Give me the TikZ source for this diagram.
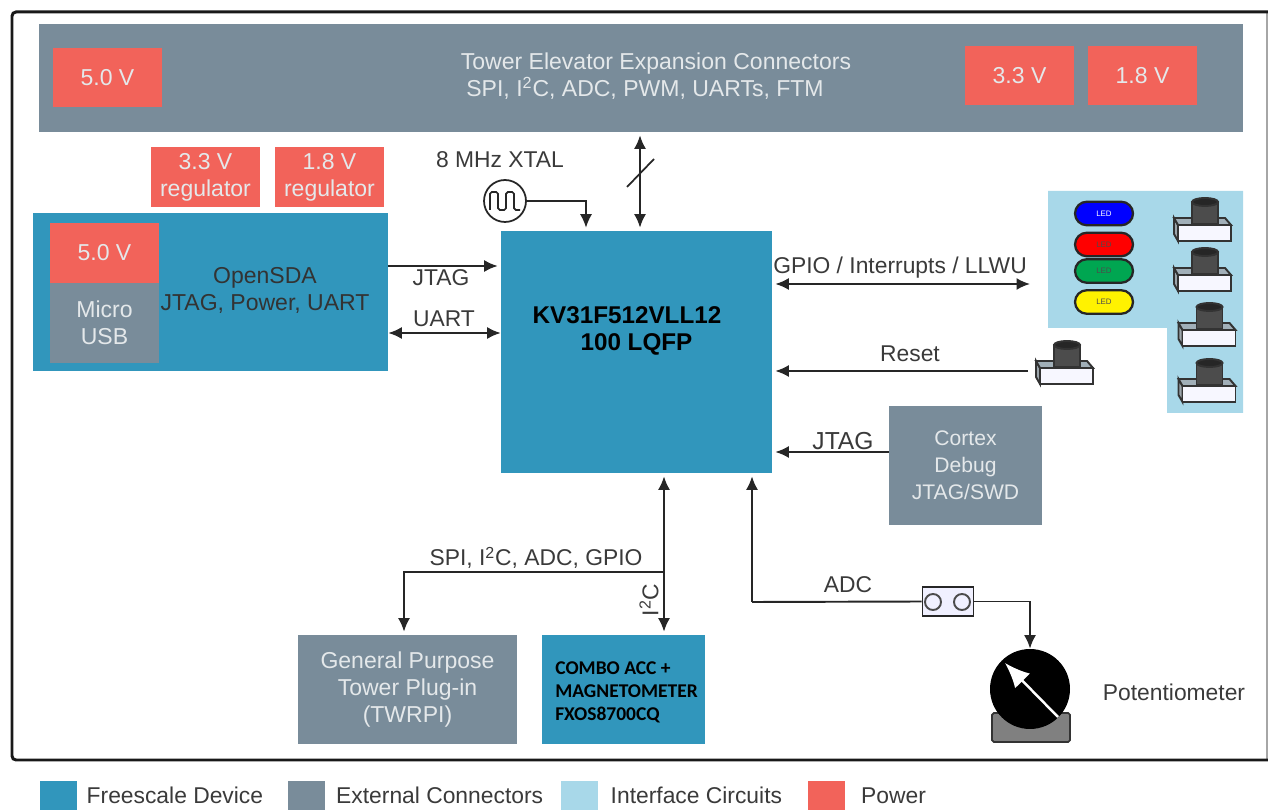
\documentclass[tikz,border=0pt]{standalone}
\usepackage{fontspec}
\setmainfont{Liberation Sans}
\newfontfamily\combofont{Carlito}
\usetikzlibrary{positioning,shapes.misc,arrows.meta}

\definecolor{devblue}{HTML}{3196BC}
\definecolor{extgrey}{HTML}{798C9A}
\definecolor{ifblue}{HTML}{A8D8E9}
\definecolor{powred}{HTML}{F2635A}
\definecolor{lbl}{HTML}{3A3A3A}
\definecolor{pale}{HTML}{E4E8EA}
\definecolor{ledgreen}{HTML}{00A651}

\tikzset{
    box/.style={inner sep=0pt,text=pale,align=center,font=\fontsize{13.1}{15.4}\selectfont},
    devbox/.style={box,fill=devblue},
    extbox/.style={box,fill=extgrey},
    powbox/.style={box,fill=powred,minimum width=2.18cm,minimum height=1.19cm},
    lab/.style={inner sep=0pt,text=lbl,align=center,font=\fontsize{13}{15}\selectfont},
    leg/.style={lab,font=\fontsize{13}{15}\selectfont},
    swatch/.style={inner sep=0pt,minimum width=0.74cm,minimum height=0.6cm},
    led/.style={rounded rectangle,draw=black!85,line width=1.3pt,inner sep=0pt,
        minimum width=1.16cm,minimum height=0.47cm,font=\fontsize{4.5}{5}\selectfont},
    conn/.style={line width=1.1pt,->,draw=black!85,shorten >=0.06cm},
    bothconn/.style={line width=1.1pt,<->,draw=black!85,shorten >=0.06cm,shorten <=0.06cm},
    pushbtn/.pic={
        \filldraw[draw=black!80,fill=black!25!extgrey!60,line width=1.1pt]
            (-31,-7) -- (-27,0) -- (-27,16) -- (-31,9) -- cycle;
        \filldraw[draw=black!80,fill=extgrey!70,line width=1.1pt]
            (-31,-7) -- (20,-7) -- (26,0) -- (-27,0) -- cycle;
        \filldraw[draw=black!80,fill=blue!3,line width=1.1pt] (-27,0) rectangle (26,16);
        \filldraw[draw=black!80,fill=black!70,line width=1.1pt]
            (-13,-23) -- (-13,-1) -- (13,-1) -- (13,-23) -- cycle;
        \filldraw[draw=black!80,fill=black!85,line width=1.1pt] (0,-23) ellipse (13 and 4);
    }
}

\begin{document}
\begin{tikzpicture}[>={Latex[length=0.27cm,width=0.24cm]},x=0.02cm,y=-0.02cm]
    \useasboundingbox (0,0) rectangle (1268,810);

    \draw[black!35,line width=0.6pt] (1267,12) -- (1267,760);
    \draw[line width=1.7pt,black!90,rounded corners=0.08cm] (1268,12) -- (12,12) -- (12,760) -- (1268,760);

    % tower connectors
    \node[extbox,minimum width=24.08cm,minimum height=2.16cm] (tower) at (641,78) {};
    \node[box] (towertxt) at (650,76) {\hspace{0.24cm}Tower Elevator Expansion Connectors\\SPI, I\textsuperscript{2}C, ADC, PWM, UARTs, FTM\hspace{0.2cm}\null};
    \node[powbox] (pfive) at (107.5,77.5) {5.0 V};
    \node[powbox] (pthree) at (1019.5,75.5) {3.3 V};
    \node[powbox] (pone) at (1142.5,75.5) {1.8 V};

    % regulators and opensda
    \node[powbox] (regthree) at (205.5,177) {3.3 V\\regulator};
    \node[powbox] (regone) at (329.5,177) {1.8 V\\regulator};
    \node[devbox,minimum width=7.1cm,minimum height=3.16cm] (sda) at (210.5,292) {};
    \node[powbox] (sdapow) at (104.5,253) {5.0 V};
    \node[extbox,minimum width=2.18cm,minimum height=1.6cm] (usb) at (104.5,323) {Micro\\USB};
    \node[box,text=black!80] (sdatxt) at (265,290) {OpenSDA\\JTAG, Power, UART};

    % mcu
    \node[devbox,minimum width=5.42cm,minimum height=4.84cm] (mcu) at (636.5,352) {};
    \node[box,text=black,font=\fontsize{13.8}{15.6}\selectfont\bfseries] (mcutxt) at (627,331) {KV31F512VLL12\\\hspace{0.38cm}100 LQFP};

    % interface circuits
    \fill[ifblue] (1048,191) -- (1243,191) -- (1243,413) -- (1167,413) -- (1167,328) -- (1048,328) -- cycle;
    \node[led,fill=blue,text=white] (ledb) at (1104,213.5) {LED};
    \node[led,fill=red,text=black!70] (ledr) at (1104,244.5) {LED};
    \node[led,fill=ledgreen,text=black!70] (ledg) at (1104,271) {LED};
    \node[led,fill=yellow,text=black!70] (ledy) at (1104,302) {LED};
    \pic at (1205,225) {pushbtn};
    \pic at (1205,275) {pushbtn};
    \pic at (1209.5,330) {pushbtn};
    \pic at (1209.5,386) {pushbtn};
    \coordinate (gpioend) at (1030,284);
    \coordinate (resetend) at (1028,371);
    \pic at (1067,368) {pushbtn};

    \node[extbox,font=\fontsize{12}{15.4}\selectfont,minimum width=3.06cm,minimum height=2.38cm] (debug) at (965.5,465.5) {Cortex\\Debug\\JTAG/SWD};
    \node[extbox,minimum width=4.38cm,minimum height=2.18cm] (twrpi) at (407.5,689.5) {General Purpose\\Tower Plug-in\\(TWRPI)};
    \node[devbox,minimum width=3.26cm,minimum height=2.18cm] (combo) at (623.5,689.5) {};
    \node[box,anchor=west,align=left,text=black,font=\combofont\fontsize{11.1}{13}\selectfont\bfseries] (combotxt) at (555,692) {COMBO ACC +\\MAGNETOMETER\\FXOS8700CQ};

    % left side links
    \coordinate (jtagin) at (sda.east |- 0,266);
    \coordinate (uartin) at (sda.east |- 0,333);
    \draw[conn] (jtagin) -- (mcu.west |- jtagin);
    \draw[line width=1.1pt,<->,draw=black!85] (uartin) -- (mcu.west |- uartin);
    \node[lab] (jtaglab) at (441,278) {JTAG};
    \node[lab] (uartlab) at (444,319) {UART};

    % crystal and bus
    \node[draw=black!85,line width=1pt,circle,minimum size=0.84cm,inner sep=0pt] (xtal) at (505,201) {};
    \draw[line width=1pt,black!85,rounded corners=1pt] (490,210) -- (490,192) -- (498,192) -- (498,210) -- (506,210) -- (506,192) -- (514,192) -- (514,210) -- (520,210);
    \node[lab] (xtallab) at (500,160) {8 MHz XTAL};
    \draw[conn,line width=0.8pt] (xtal.east) -| (mcu.north -| 586,0);
    \coordinate (busx) at (640,0);
    \draw[bothconn] (tower.south -| busx) -- (mcu.north -| busx);
    \coordinate (slasha) at (627,187);
    \coordinate (slashb) at (654,159);
    \draw[line width=1pt,black!85] (slasha) -- (slashb);

    % right side links
    \draw[bothconn,shorten <=0pt] (gpioend) -- (mcu.east |- gpioend);
    \draw[conn] (resetend) -- (mcu.east |- resetend);
    \draw[conn] (debug.west |- 0,452) -- (mcu.east |- 0,452);
    \node[lab] (gpiolab) at (900,268) {GPIO / Interrupts / LLWU};
    \node[lab] (resetlab) at (910,354) {Reset};
    \node[lab,font=\fontsize{14}{16}\selectfont] (jtagdbg) at (843,441) {JTAG};

    % bottom links
    \coordinate (vbus) at (664,0);
    \coordinate (branch) at (664,572);
    \draw[bothconn] (mcu.south -| vbus) -- (combo.north -| vbus);
    \draw[conn] (branch) -| (twrpi.north -| 404,0);
    \node[lab] (spilab) at (536,558) {SPI, I\textsuperscript{2}C, ADC, GPIO};
    \node[lab,rotate=90] (i2clab) at (649,600) {I\textsuperscript{2}C};

    % potentiometer
    \node[draw=black!85,line width=1.1pt,fill=blue!6,minimum width=1.02cm,minimum height=0.58cm,inner sep=0pt] (jumper) at (948,601.5) {};
    \draw[black!70,line width=1.1pt] (933,602) circle (8) (962,602) circle (8);
    \filldraw[draw=black!80,fill=black!50,rounded corners=1pt,line width=1pt] (992,713) rectangle (1070,742);
    \node[circle,fill=black,minimum size=1.6cm,inner sep=0pt] (pot) at (1030,689) {};
    \coordinate (wipertail) at (1058,717);
    \coordinate (wipertip) at (1005,663);
    \draw[white,line width=1.4pt,-{Latex[length=0.5cm,width=0.42cm]}] (wipertail) -- (wipertip);
    \draw[conn] (752,602) -- (mcu.south -| 752,0);
    \draw[line width=1.1pt,black!85] (752,602) -- (jumper.west);
    \draw[line width=1.1pt,draw=black!85,->] (jumper.east) -| (pot.north);
    \node[lab] (adclab) at (848,585) {ADC};
    \node[lab] (potlab) at (1174,692) {Potentiometer};

    % legend
    \node[swatch,fill=devblue] (legdev) at (58.5,795.5) {};
    \node[leg,right=0.18cm of legdev] (legdevt) {Freescale Device};
    \node[swatch,fill=extgrey] (legext) at (306,795.5) {};
    \node[leg,right=0.22cm of legext] (legextt) {External Connectors};
    \node[swatch,fill=ifblue] (legif) at (579.5,795.5) {};
    \node[leg,right=0.24cm of legif] (legift) {Interface Circuits};
    \node[swatch,fill=powred] (legpow) at (826,795.5) {};
    \node[leg,right=0.32cm of legpow] (legpowt) {Power};
\end{tikzpicture}
\end{document}
